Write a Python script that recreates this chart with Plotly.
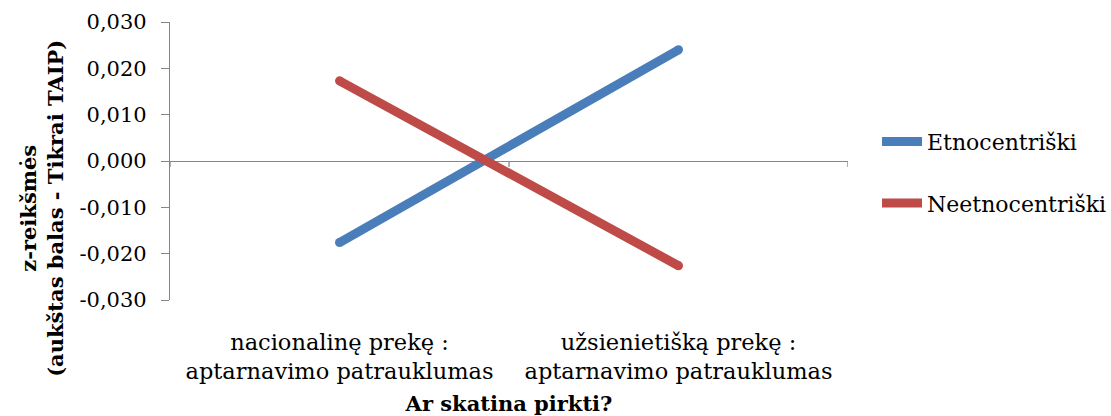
import plotly.graph_objects as go

# Categories on the x axis and z-score values for each group
categories = ["nacionalinę prekę :<br>aptarnavimo patrauklumas",
              "užsienietišką prekę :<br>aptarnavimo patrauklumas"]
etnocentriski = [-0.0176, 0.0240]
neetnocentriski = [0.0173, -0.0226]

# Value-axis ticks with decimal comma and plain hyphen minus
y_tickvals = [-0.03, -0.02, -0.01, 0.0, 0.01, 0.02, 0.03]
y_ticktext = ["-0,030", "-0,020", "-0,010", "0,000", "0,010", "0,020", "0,030"]

series = [
    ("Etnocentriški", etnocentriski, "#4A7EBB"),
    ("Neetnocentriški", neetnocentriski, "#BE4B48"),
]

FONT = "DejaVu Serif"
AXIS_GREY = "#868686"
xpos = list(range(len(categories)))

fig = go.Figure()
for i, (name, vals, color) in enumerate(series):
    fig.add_trace(go.Scatter(
        x=xpos, y=vals, mode="lines", name=name,
        line=dict(color=color, width=9),
        legendgroup=f"g{i}",
    ))
    # round line ends
    fig.add_trace(go.Scatter(
        x=xpos, y=vals, mode="markers", showlegend=False,
        marker=dict(color=color, size=9, line=dict(width=0)),
        legendgroup=f"g{i}", hoverinfo="skip",
    ))

# horizontal category axis through zero with boundary ticks
for b in [-0.5, 0.5, 1.5]:
    fig.add_shape(type="line", xref="x", yref="paper",
                  x0=b, x1=b, y0=0.5, y1=0.5 - 6 / 278,
                  line=dict(color=AXIS_GREY, width=1.3))

# value-axis title, centred on the whole chart height
fig.add_annotation(
    text="<b>z-reikšmės<br>(aukštas balas - Tikrai TAIP)</b>",
    xref="paper", yref="paper", x=-0.189, y=0.331,
    xanchor="center", yanchor="middle", textangle=-90, showarrow=False,
    font=dict(family=FONT, size=21, color="black"),
)

fig.update_layout(
    width=1111, height=416,
    margin=dict(l=170, r=263, t=22, b=116, autoexpand=False),
    paper_bgcolor="white", plot_bgcolor="white",
    font=dict(family=FONT, size=21, color="black"),
    showlegend=True,
    legend=dict(x=1.0428, y=0.458, xanchor="left", yanchor="middle",
                font=dict(family=FONT, size=22, color="black"),
                traceorder="grouped", tracegroupgap=30,
                bgcolor="rgba(0,0,0,0)", itemwidth=40),
    xaxis=dict(
        range=[-0.5, 1.5], tickmode="array", tickvals=xpos,
        ticktext=categories, showgrid=False, zeroline=False,
        showline=False, ticks="outside", ticklen=22,
        tickcolor="rgba(0,0,0,0)", automargin=False,
        tickfont=dict(family=FONT, size=22.5, color="black"),
        title=dict(text="<b>Ar skatina pirkti?</b>",
                   font=dict(family=FONT, size=21, color="black"),
                   standoff=15),
    ),
    yaxis=dict(
        range=[-0.03, 0.03], tickmode="array", tickvals=y_tickvals,
        ticktext=y_ticktext, automargin=False,
        showgrid=False, zeroline=True, zerolinecolor=AXIS_GREY,
        zerolinewidth=1.3, showline=True, linecolor=AXIS_GREY,
        linewidth=1.3, ticks="outside", ticklen=8, tickcolor=AXIS_GREY,
        tickwidth=1.3, ticklabelstandoff=10,
        tickfont=dict(family=FONT, size=21, color="black"),
    ),
)

fig.write_html("out.html")
